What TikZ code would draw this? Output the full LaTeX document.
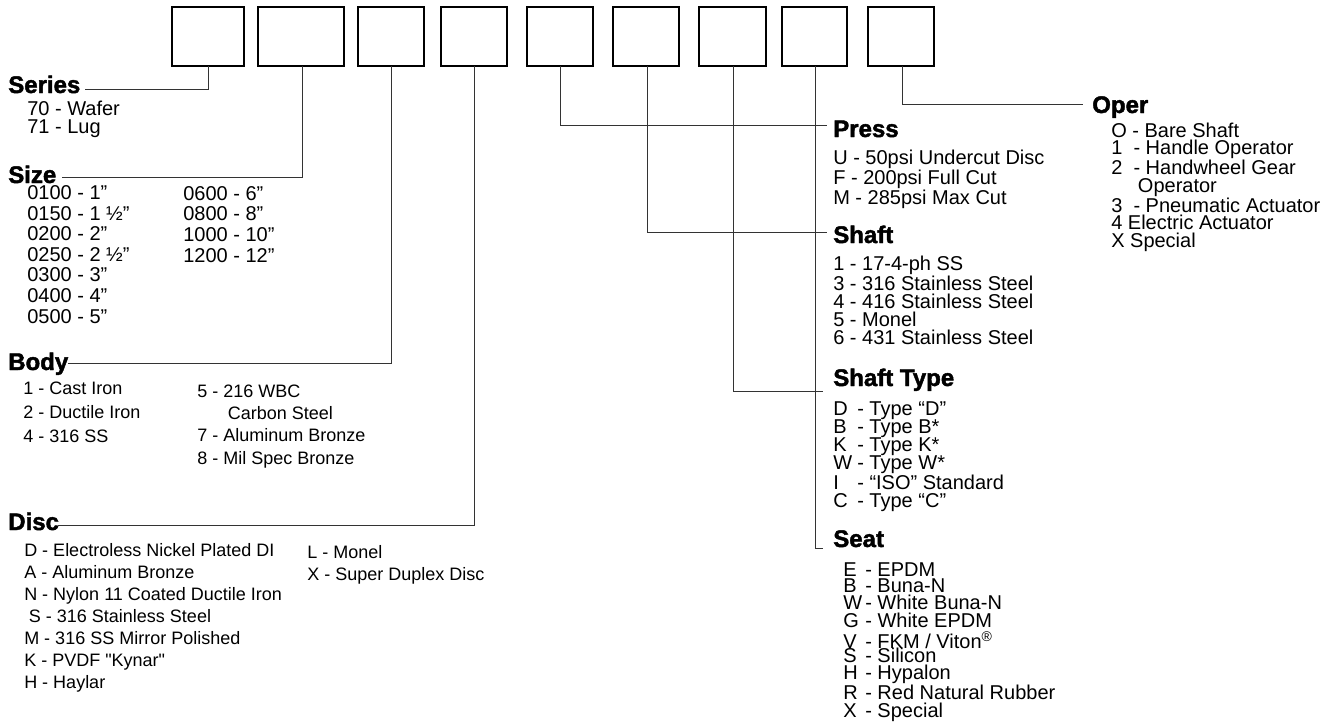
\documentclass[tikz,border=0pt]{standalone}
\usepackage{fontspec}
\setmainfont{Liberation Sans}
\newfontfamily\headfont[UprightFont={* Bold},FakeBold=1.8]{Liberation Sans}
\usetikzlibrary{positioning}
\newcommand{\keyrow}[3]{\makebox[#1][l]{#2}- #3}

\begin{document}
\begin{tikzpicture}[
  x=0.75pt, y=-0.75pt,
  codebox/.style={draw, line width=1pt, minimum width=49.5pt, minimum height=44.25pt, inner sep=0pt, outer sep=0pt},
  link/.style={draw=black!80, line width=0.75pt},
  head/.style={anchor=base west, inner sep=0pt, font=\headfont\fontsize{18}{18}\selectfont},
  % lists are placed at the baseline of their last line
  list/.style={anchor=base west, inner sep=0pt, align=left, font=\fontsize{15}{13.5}\selectfont},
  sizelist/.style={list, font=\fontsize{15}{15.4}\selectfont},
  bodylist/.style={list, font=\fontsize{13.5}{18}\selectfont},
  disclist/.style={list, font=\fontsize{13.5}{16.5}\selectfont},
]
\useasboundingbox (0,0) rectangle (1333,721);

% code boxes
\node[codebox, minimum width=54pt] (b1) at (208,36.5) {};
\node[codebox, minimum width=64.5pt] (b2) at (301,36.5) {};
\node[codebox] (b3) at (391,36.5) {};
\node[codebox] (b4) at (474,36.5) {};
\node[codebox] (b5) at (560,36.5) {};
\node[codebox] (b6) at (646,36.5) {};
\node[codebox, minimum width=50.25pt] (b7) at (732.5,36.5) {};
\node[codebox, minimum width=48.75pt] (b8) at (814.5,36.5) {};
\node[codebox] (b9) at (901,36.5) {};

% left side
\node[head] (series) at (8,93) {Series};
\node[list] (serieslist) at (27,133) {70 - Wafer\\71 - Lug};

\node[head] (size) at (8,183) {Size};
\node[sizelist] (sizeA) at (27,323) {0100 - 1”\\0150 - 1 ½”\\0200 - 2”\\0250 - 2 ½”\\0300 - 3”\\0400 - 4”\\0500 - 5”};
\node[sizelist] (sizeB) at (183,262) {0600 - 6”\\0800 - 8”\\1000 - 10”\\1200 - 12”};

\node[head] (body) at (8,370) {Body};
\node[bodylist] (bodyA) at (23,442) {1 - Cast Iron\\2 - Ductile Iron\\4 - 316 SS};
\node[bodylist, font=\fontsize{13.5}{16.7}\selectfont] (bodyB) at (197,464) {5 - 216 WBC\\\hspace*{23pt}Carbon Steel\\7 - Aluminum Bronze\\8 - Mil Spec Bronze};

\node[head] (disc) at (8,530) {Disc};
\node[disclist] (discA) at (24,688) {D - Electroless Nickel Plated DI\\A - Aluminum Bronze\\N - Nylon 11 Coated Ductile Iron\\\hspace*{3.5pt}S - 316 Stainless Steel\\M - 316 SS Mirror Polished\\K - PVDF {\addfontfeatures{Ligatures=TeXOff}"Kynar"}\\H - Haylar};
\node[disclist] (discB) at (307,580) {L - Monel\\X - Super Duplex Disc};

% right side
\node[head] (press) at (833,137) {Press};
\node[list] (presslist) at (833,204) {U - 50psi Undercut Disc\\F - 200psi Full Cut\\M - 285psi Max Cut};

\node[head] (shaft) at (833,243) {Shaft};
\node[list] (shaftlist) at (833,344) {1 - 17-4-ph SS\\3 - 316 Stainless Steel\\4 - 416 Stainless Steel\\5 - Monel\\6 - 431 Stainless Steel};

\node[head] (stype) at (833,386) {Shaft Type};
\node[list] (stypelist) at (833,507) {\keyrow{18pt}{D}{Type “D”}\\\keyrow{18pt}{B}{Type B*}\\\keyrow{18pt}{K}{Type K*}\\\keyrow{18pt}{W}{Type W*}\\\keyrow{18pt}{I}{“ISO” Standard}\\\keyrow{18pt}{C}{Type “C”}};

\node[head] (seat) at (833,547) {Seat};
\node[list, font=\fontsize{15}{13.1}\selectfont] (seatlist) at (843,717) {\keyrow{16.5pt}{E}{EPDM}\\[-1.1pt]\keyrow{16.5pt}{B}{Buna-N}\\\keyrow{16.5pt}{W}{White Buna-N}\\\keyrow{16.5pt}{G}{White EPDM}\\[2.6pt]\keyrow{16.5pt}{V}{FKM / Viton\textsuperscript{®}}\\[-2.6pt]\keyrow{16.5pt}{S}{Silicon}\\\keyrow{16.5pt}{H}{Hypalon}\\\keyrow{16.5pt}{R}{Red Natural Rubber}\\\keyrow{16.5pt}{X}{Special}};

\node[head] (oper) at (1092,113) {Oper};
\node[list, font=\fontsize{15}{13.1}\selectfont] (operlist) at (1111,247) {O - Bare Shaft\\1\ \ - Handle Operator\\2\ \ - Handwheel Gear\\\hspace*{20pt}Operator\\3\ \ - Pneumatic Actuator\\4 Electric Actuator\\X Special};

% connectors
\coordinate (seriesend) at (85,89);
\coordinate (sizeend) at (62,177);
\coordinate (bodyend) at (68,363);
\coordinate (discend) at (58,525);
\coordinate (pressend) at (827,125);
\coordinate (shaftend) at (827,232);
\coordinate (stypeend) at (823,391);
\coordinate (seatend) at (823,548);
\coordinate (operend) at (1083,104);
\draw[link] (b1.south) |- (seriesend);
\draw[link] (b2.south -| 302,0) |- (sizeend);
\draw[link] (b3.south) |- (bodyend);
\draw[link] (b4.south) |- (discend);
\draw[link] (b5.south) |- (pressend);
\draw[link] (b6.south -| 647,0) |- (shaftend);
\draw[link] (b7.south -| 733,0) |- (stypeend);
\draw[link] (b8.south -| 815,0) |- (seatend);
\draw[link] (b9.south -| 902,0) |- (operend);
\end{tikzpicture}
\end{document}
